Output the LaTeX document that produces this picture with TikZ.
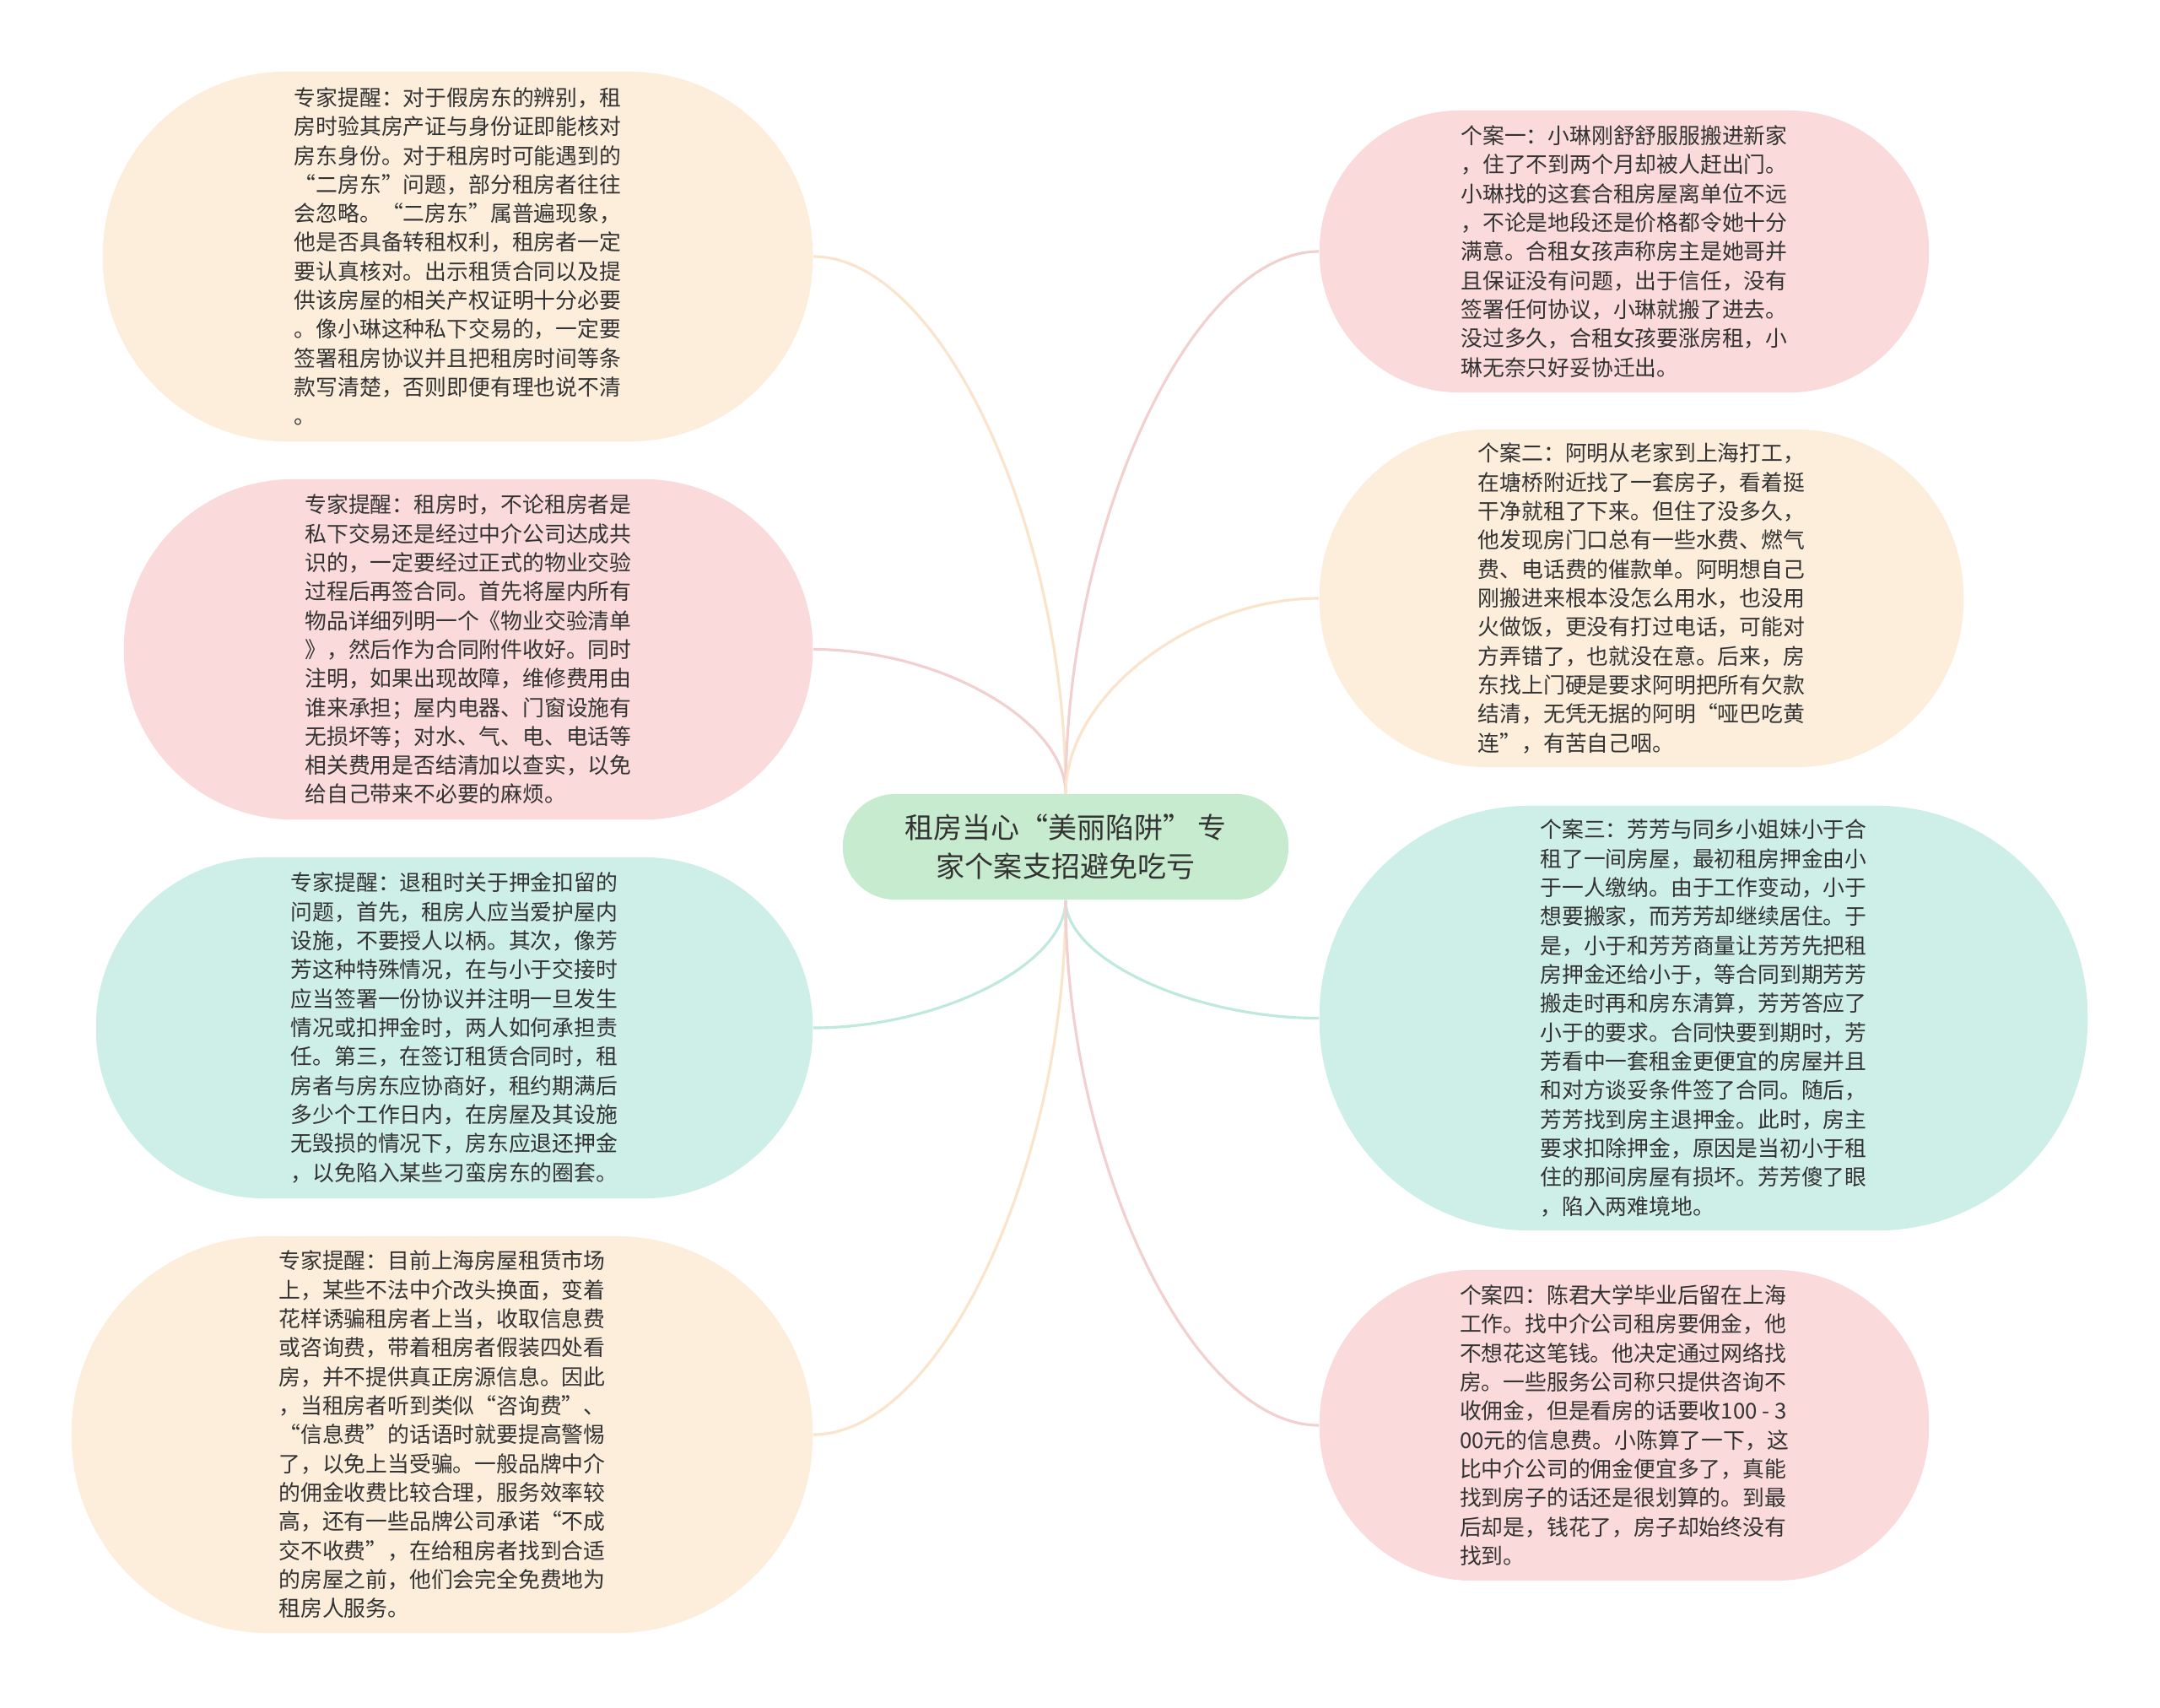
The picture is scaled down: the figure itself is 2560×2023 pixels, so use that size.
\documentclass[tikz,border=0pt]{standalone}
\usepackage{fontspec}
\setmainfont{Noto Sans CJK SC}
\usepackage{xcolor}
\usepackage{tikz}

\definecolor{ink}{HTML}{333333}
\definecolor{peachfill}{HTML}{FDEEDC}
\definecolor{pinkfill}{HTML}{FADADA}
\definecolor{cyanfill}{HTML}{CDEFE7}
\definecolor{rootfill}{HTML}{C7EBCE}
\definecolor{peachline}{HTML}{FBE4CC}
\definecolor{pinkline}{HTML}{F3D0D0}
\definecolor{cyanline}{HTML}{BFE9DE}

\begin{document}
\begin{tikzpicture}[x=0.01cm, y=-0.01cm,
        bubble/.style={align=left, inner sep=0pt, text=ink, font={\fontsize{7.34pt}{9.76pt}\selectfont}},
        peachbox/.style={bubble, fill=peachfill},
        pinkbox/.style={bubble, fill=pinkfill},
        cyanbox/.style={bubble, fill=cyanfill},
        topic/.style={fill=rootfill, align=center, inner sep=0pt, text=ink, font={\fontsize{9.67pt}{12.97pt}\selectfont}, minimum width=5.28cm, minimum height=1.25cm, rounded corners=0.62cm},
        link/.style={line width=0.9pt}
    ]
        \fill[white] (0,0) rectangle (2560,2023);
        \useasboundingbox (0,0) rectangle (2560,2023);

        \node[topic] (root) at (1263,1003.5) {租房当心“美丽陷阱” 专\\家个案支招避免吃亏};

        \node[peachbox, minimum width=8.41cm, minimum height=4.38cm, rounded corners=2.17cm] (tip1) at (542.5,304) {专家提醒：对于假房东的辨别，租\\房时验其房产证与身份证即能核对\\房东身份。对于租房时可能遇到的\\“二房东”问题，部分租房者往往\\会忽略。“二房东”属普遍现象，\\他是否具备转租权利，租房者一定\\要认真核对。出示租赁合同以及提\\供该房屋的相关产权证明十分必要\\。像小琳这种私下交易的，一定要\\签署租房协议并且把租房时间等条\\款写清楚，否则即便有理也说不清\\。};
        \node[pinkbox, minimum width=8.16cm, minimum height=4.03cm, rounded corners=2.0cm] (tip2) at (555,769.5) {专家提醒：租房时，不论租房者是\\私下交易还是经过中介公司达成共\\识的，一定要经过正式的物业交验\\过程后再签合同。首先将屋内所有\\物品详细列明一个《物业交验清单\\》，然后作为合同附件收好。同时\\注明，如果出现故障，维修费用由\\谁来承担；屋内电器、门窗设施有\\无损坏等；对水、气、电、电话等\\相关费用是否结清加以查实，以免\\给自己带来不必要的麻烦。};
        \node[cyanbox, minimum width=8.49cm, minimum height=4.04cm, rounded corners=2.0cm] (tip3) at (538.5,1218) {专家提醒：退租时关于押金扣留的\\问题，首先，租房人应当爱护屋内\\设施，不要授人以柄。其次，像芳\\芳这种特殊情况，在与小于交接时\\应当签署一份协议并注明一旦发生\\情况或扣押金时，两人如何承担责\\任。第三，在签订租赁合同时，租\\房者与房东应协商好，租约期满后\\多少个工作日内，在房屋及其设施\\无毁损的情况下，房东应退还押金\\，以免陷入某些刁蛮房东的圈套。};
        \node[peachbox, minimum width=8.78cm, minimum height=4.70cm, rounded corners=2.33cm] (tip4) at (524,1700) {专家提醒：目前上海房屋租赁市场\\上，某些不法中介改头换面，变着\\花样诱骗租房者上当，收取信息费\\或咨询费，带着租房者假装四处看\\房，并不提供真正房源信息。因此\\，当租房者听到类似“咨询费”、\\“信息费”的话语时就要提高警惕\\了，以免上当受骗。一般品牌中介\\的佣金收费比较合理，服务效率较\\高，还有一些品牌公司承诺“不成\\交不收费”，在给租房者找到合适\\的房屋之前，他们会完全免费地为\\租房人服务。};

        \node[pinkbox, minimum width=7.22cm, minimum height=3.34cm, rounded corners=1.66cm] (case1) at (1925,298) {个案一：小琳刚舒舒服服搬进新家\\，住了不到两个月却被人赶出门。\\小琳找的这套合租房屋离单位不远\\，不论是地段还是价格都令她十分\\满意。合租女孩声称房主是她哥并\\且保证没有问题，出于信任，没有\\签署任何协议，小琳就搬了进去。\\没过多久，合租女孩要涨房租，小\\琳无奈只好妥协迁出。};
        \node[peachbox, minimum width=7.63cm, minimum height=4.00cm, rounded corners=1.98cm] (case2) at (1945.5,709) {个案二：阿明从老家到上海打工，\\在塘桥附近找了一套房子，看着挺\\干净就租了下来。但住了没多久，\\他发现房门口总有一些水费、燃气\\费、电话费的催款单。阿明想自己\\刚搬进来根本没怎么用水，也没用\\火做饭，更没有打过电话，可能对\\方弄错了，也就没在意。后来，房\\东找上门硬是要求阿明把所有欠款\\结清，无凭无据的阿明“哑巴吃黄\\连”，有苦自己咽。};
        \node[cyanbox, minimum width=9.10cm, minimum height=5.03cm, rounded corners=2.49cm] (case3) at (2019,1206.5) {个案三：芳芳与同乡小姐妹小于合\\租了一间房屋，最初租房押金由小\\于一人缴纳。由于工作变动，小于\\想要搬家，而芳芳却继续居住。于\\是，小于和芳芳商量让芳芳先把租\\房押金还给小于，等合同到期芳芳\\搬走时再和房东清算，芳芳答应了\\小于的要求。合同快要到期时，芳\\芳看中一套租金更便宜的房屋并且\\和对方谈妥条件签了合同。随后，\\芳芳找到房主退押金。此时，房主\\要求扣除押金，原因是当初小于租\\住的那间房屋有损坏。芳芳傻了眼\\，陷入两难境地。};
        \node[pinkbox, minimum width=7.22cm, minimum height=3.68cm, rounded corners=1.82cm] (case4) at (1925,1689) {个案四：陈君大学毕业后留在上海\\工作。找中介公司租房要佣金，他\\不想花这笔钱。他决定通过网络找\\房。一些服务公司称只提供咨询不\\收佣金，但是看房的话要收100 - 3\\00元的信息费。小陈算了一下，这\\比中介公司的佣金便宜多了，真能\\找到房子的话还是很划算的。到最\\后却是，钱花了，房子却始终没有\\找到。};

        \draw[link, peachline] (root.north) .. controls +(0,-318) and +(150,0) .. (tip1.east);
        \draw[link, pinkline] (root.north) .. controls +(0,-86) and +(150,0) .. (tip2.east);
        \draw[link, cyanline] (root.south) .. controls +(0,76) and +(150,0) .. (tip3.east);
        \draw[link, peachline] (root.south) .. controls +(0,317) and +(150,0) .. (tip4.east);
        \draw[link, pinkline] (root.north) .. controls +(0,-321) and +(-150,0) .. (case1.west);
        \draw[link, peachline] (root.north) .. controls +(0,-116) and +(-150,0) .. (case2.west);
        \draw[link, cyanline] (root.south) .. controls +(0,70) and +(-150,0) .. (case3.west);
        \draw[link, pinkline] (root.south) .. controls +(0,311) and +(-150,0) .. (case4.west);
    \end{tikzpicture}
\end{document}
